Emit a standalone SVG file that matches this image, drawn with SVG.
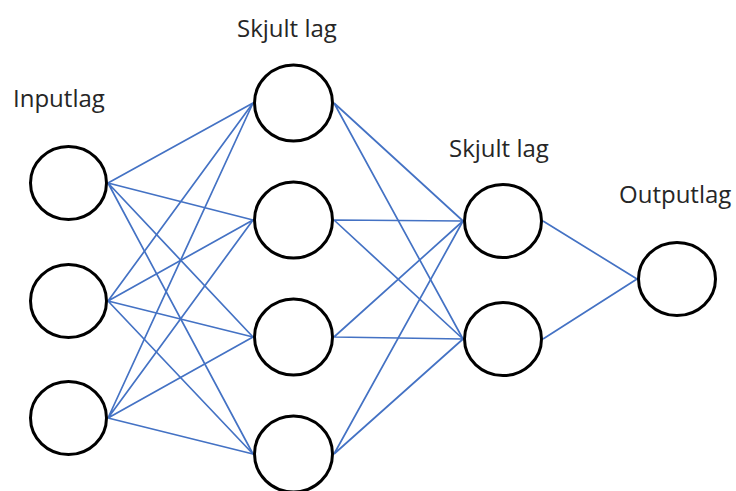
<svg xmlns="http://www.w3.org/2000/svg" width="736" height="491" viewBox="0 0 736 491">
  <style>
    .node { fill: #ffffff; stroke: #000000; stroke-width: 3; }
    .edge { stroke: #4472C4; stroke-width: 1.7; fill: none; }
    .label { font-family: "Open Sans", "Liberation Sans", sans-serif; font-size: 24px; fill: #262626; }
  </style>
  <rect width="736" height="491" fill="#ffffff"/>

  <!-- connectors -->
  <g id="edges" class="edge">
    <!-- input -> hidden 1 -->
    <path d="M108 183 L253 103 M108 183 L253 220 M108 183 L253 337 M108 183 L253 454"/>
    <path d="M108 301 L253 103 M108 301 L253 220 M108 301 L253 337 M108 301 L253 454"/>
    <path d="M108 418 L253 103 M108 418 L253 220 M108 418 L253 337 M108 418 L253 454"/>
    <!-- hidden 1 -> hidden 2 -->
    <path d="M334 103 L463 221 M334 103 L463 339"/>
    <path d="M334 220 L463 221 M334 220 L463 339"/>
    <path d="M334 337 L463 221 M334 337 L463 339"/>
    <path d="M334 454 L463 221 M334 454 L463 339"/>
    <!-- hidden 2 -> output -->
    <path d="M543 221 L637 279 M543 339 L637 279"/>
  </g>

  <!-- input layer -->
  <g id="in1"><ellipse class="node" cx="68.5" cy="183" rx="38" ry="36.5"/></g>
  <g id="in2"><ellipse class="node" cx="68.5" cy="301" rx="38" ry="36.5"/></g>
  <g id="in3"><ellipse class="node" cx="68.5" cy="418" rx="38" ry="36.5"/></g>

  <!-- first hidden layer -->
  <g id="h1a"><ellipse class="node" cx="293.5" cy="103" rx="39" ry="38"/></g>
  <g id="h1b"><ellipse class="node" cx="293.5" cy="220" rx="39" ry="38"/></g>
  <g id="h1c"><ellipse class="node" cx="293.5" cy="337" rx="39" ry="38"/></g>
  <g id="h1d"><ellipse class="node" cx="293.5" cy="454" rx="39" ry="38"/></g>

  <!-- second hidden layer -->
  <g id="h2a"><ellipse class="node" cx="503" cy="221" rx="38.5" ry="36.5"/></g>
  <g id="h2b"><ellipse class="node" cx="503" cy="339" rx="38.5" ry="36.5"/></g>

  <!-- output layer -->
  <g id="out"><ellipse class="node" cx="677" cy="279" rx="38.5" ry="36.5"/></g>

  <!-- layer titles -->
  <g id="labels">
    <text class="label" x="13" y="107">Inputlag</text>
    <text class="label" x="237" y="37">Skjult lag</text>
    <text class="label" x="449" y="157">Skjult lag</text>
    <text class="label" x="619" y="203">Outputlag</text>
  </g>
</svg>
